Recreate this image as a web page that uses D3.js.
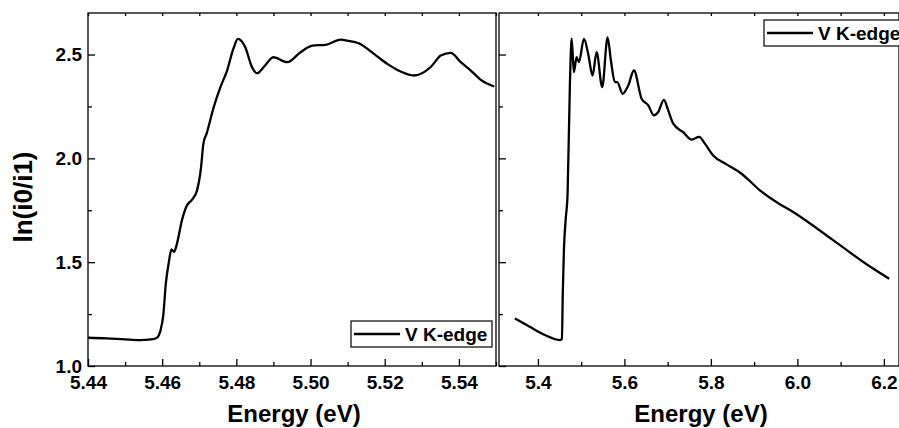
<!DOCTYPE html>
<html>
<head>
<meta charset="utf-8">
<script src="https://cdn.jsdelivr.net/npm/d3@7"></script>
<style>
  body { margin: 0; background: #fff; }
  svg { display: block; font-family: "Liberation Sans", Arial, sans-serif; }
  .tick text { font-size: 19px; font-weight: bold; fill: #000; }
</style>
</head>
<body>
<div id="chart"></div>
<script>
// left panel: zoom on the edge region
var leftEnergy = [5.440, 5.445, 5.450, 5.454, 5.457, 5.4585, 5.4595, 5.4603, 5.461, 5.4618,
  5.4625, 5.4632, 5.464, 5.4653, 5.4667, 5.468, 5.4694, 5.4705, 5.4711, 5.472,
  5.4739, 5.4757, 5.4775, 5.4792, 5.4804, 5.4824, 5.4842, 5.4856, 5.4874, 5.490,
  5.4937, 5.4973, 5.5005, 5.5041, 5.5081, 5.5099, 5.513, 5.5171, 5.5207, 5.5243,
  5.5279, 5.5324, 5.5351, 5.5378, 5.5405, 5.5432, 5.5459, 5.5495];
var leftAbs = [1.136, 1.133, 1.128, 1.125, 1.128, 1.135, 1.168, 1.245, 1.40, 1.50,
  1.562, 1.55, 1.59, 1.70, 1.774, 1.80, 1.846, 1.96, 2.07, 2.12,
  2.247, 2.343, 2.423, 2.528, 2.575, 2.535, 2.44, 2.41, 2.44, 2.487,
  2.463, 2.511, 2.543, 2.547, 2.572, 2.567, 2.554, 2.503, 2.455, 2.418,
  2.399, 2.44, 2.495, 2.508, 2.463, 2.423, 2.378, 2.346];

// right panel: full scan
var rightEnergy = [5.3468, 5.38, 5.4162, 5.4509, 5.4555, 5.4575, 5.4601, 5.464, 5.4686, 5.474,
  5.478, 5.4832, 5.4894, 5.4948, 5.5064, 5.5163, 5.5263, 5.5357, 5.5487, 5.5611,
  5.5688, 5.578, 5.5834, 5.5958, 5.6089, 5.622, 5.6398, 5.6552, 5.6682, 5.6782,
  5.6913, 5.7013, 5.7129, 5.736, 5.7553, 5.7729, 5.7861, 5.8053, 5.8362, 5.8709,
  5.9133, 5.9595, 5.99, 6.0827, 6.16, 6.2124];
var rightAbs = [1.229, 1.19, 1.149, 1.125, 1.13, 1.35, 1.558, 1.70, 1.83, 2.36,
  2.577, 2.415, 2.487, 2.463, 2.575, 2.503, 2.399, 2.511, 2.343, 2.583,
  2.471, 2.367, 2.367, 2.311, 2.351, 2.423, 2.287, 2.255, 2.207, 2.223,
  2.282, 2.231, 2.167, 2.126, 2.09, 2.103, 2.071, 2.014, 1.971, 1.926,
  1.846, 1.779, 1.742, 1.606, 1.49, 1.42];

var yTicks = [1.0, 1.5, 2.0, 2.5];
var yMinor = [1.25, 1.75, 2.25];
var leftTicks = [5.44, 5.46, 5.48, 5.50, 5.52, 5.54];
var leftMinor = [5.45, 5.47, 5.49, 5.51, 5.53, 5.55];
var rightTicks = [5.4, 5.6, 5.8, 6.0, 6.2];
var rightMinor = [5.5, 5.7, 5.9, 6.1];
var seriesName = "V K-edge";

var width = 899, height = 428,
  plotTop = 13, plotBottom = 366;

var svg = d3.select("#chart").append("svg")
  .attr("width", width).attr("height", height);

var yScale = d3.scaleLinear().domain([1.0, 2.7]).range([plotBottom, plotTop]);
var xLeft = d3.scaleLinear().domain([5.44, 5.55]).range([88, 496]);
var xRight = d3.scaleLinear().domain([5.31, 6.235]).range([499, 899]);

function fmt2(d) { return d.toFixed(2); }
function fmt1(d) { return d.toFixed(1); }

function drawPanel(x, energy, absv, ticks, minor, fmt, showYLabels, legendPos) {
  var g = svg.append("g");
  var x0 = x.range()[0], x1 = x.range()[1];

  // frame
  g.append("rect")
    .attr("x", x0).attr("y", plotTop)
    .attr("width", x1 - x0).attr("height", plotBottom - plotTop)
    .attr("fill", "none").attr("stroke", "#000").attr("stroke-width", 1.3);

  // bottom axis, ticks pointing in
  var bx = g.append("g").attr("transform", "translate(0," + plotBottom + ")")
    .call(d3.axisBottom(x).tickValues(ticks).tickFormat(fmt).tickSizeInner(-7).tickSizeOuter(0).tickPadding(10));
  bx.select(".domain").remove();
  var bm = g.append("g").attr("transform", "translate(0," + plotBottom + ")")
    .call(d3.axisBottom(x).tickValues(minor).tickFormat("").tickSizeInner(-4).tickSizeOuter(0));
  bm.select(".domain").remove();

  // top axis small ticks
  var tx = g.append("g").attr("transform", "translate(0," + plotTop + ")")
    .call(d3.axisTop(x).tickValues(ticks.concat(minor)).tickFormat("").tickSizeInner(-3).tickSizeOuter(0));
  tx.select(".domain").remove();

  // left axis
  var ly = g.append("g").attr("transform", "translate(" + x0 + ",0)")
    .call(d3.axisLeft(yScale).tickValues(yTicks).tickFormat(showYLabels ? fmt1 : "").tickSizeInner(-7).tickSizeOuter(0).tickPadding(6));
  ly.select(".domain").remove();
  var lm = g.append("g").attr("transform", "translate(" + x0 + ",0)")
    .call(d3.axisLeft(yScale).tickValues(yMinor).tickFormat("").tickSizeInner(-4).tickSizeOuter(0));
  lm.select(".domain").remove();

  g.selectAll(".tick line").attr("stroke", "#000").attr("stroke-width", 1.3);

  // the curve
  var clipId = "clip" + Math.round(x0);
  svg.append("clipPath").attr("id", clipId).append("rect")
    .attr("x", x0).attr("y", plotTop).attr("width", x1 - x0).attr("height", plotBottom - plotTop);

  var pts = energy.map(function (e, i) { return [e, absv[i]]; });
  var line = d3.line()
    .x(function (d) { return x(d[0]); })
    .y(function (d) { return yScale(d[1]); })
    .curve(d3.curveMonotoneX);
  g.append("path")
    .datum(pts)
    .attr("clip-path", "url(#" + clipId + ")")
    .attr("d", line)
    .attr("fill", "none")
    .attr("stroke", "#000")
    .attr("stroke-width", 2.3)
    .attr("stroke-linejoin", "round");

  // legend
  var lg = g.append("g").attr("transform", "translate(" + legendPos[0] + "," + legendPos[1] + ")");
  lg.append("rect").attr("x", 0).attr("y", 0).attr("width", 141).attr("height", 26)
    .attr("fill", "#fff").attr("stroke", "#000").attr("stroke-width", 1.2);
  lg.append("line").attr("x1", 3).attr("x2", 49).attr("y1", 13).attr("y2", 13)
    .attr("stroke", "#000").attr("stroke-width", 2.3);
  lg.append("text").attr("x", 54).attr("y", 20)
    .style("font-size", "19px").style("font-weight", "bold")
    .text(seriesName);

  // x title
  g.append("text")
    .attr("x", (x0 + Math.min(x1, 899)) / 2 + 2)
    .attr("y", 422)
    .attr("text-anchor", "middle")
    .style("font-size", "24px").style("font-weight", "bold")
    .text("Energy (eV)");
}

drawPanel(xLeft, leftEnergy, leftAbs, leftTicks, leftMinor, fmt2, true, [351, 321]);
drawPanel(xRight, rightEnergy, rightAbs, rightTicks, rightMinor, fmt1, false, [764, 20]);

// y title
svg.append("text")
  .attr("transform", "translate(32," + 197 + ") rotate(-90)")
  .attr("text-anchor", "middle")
  .style("font-size", "26px").style("font-weight", "bold")
  .text("ln(i0/i1)");
</script>
</body>
</html>
